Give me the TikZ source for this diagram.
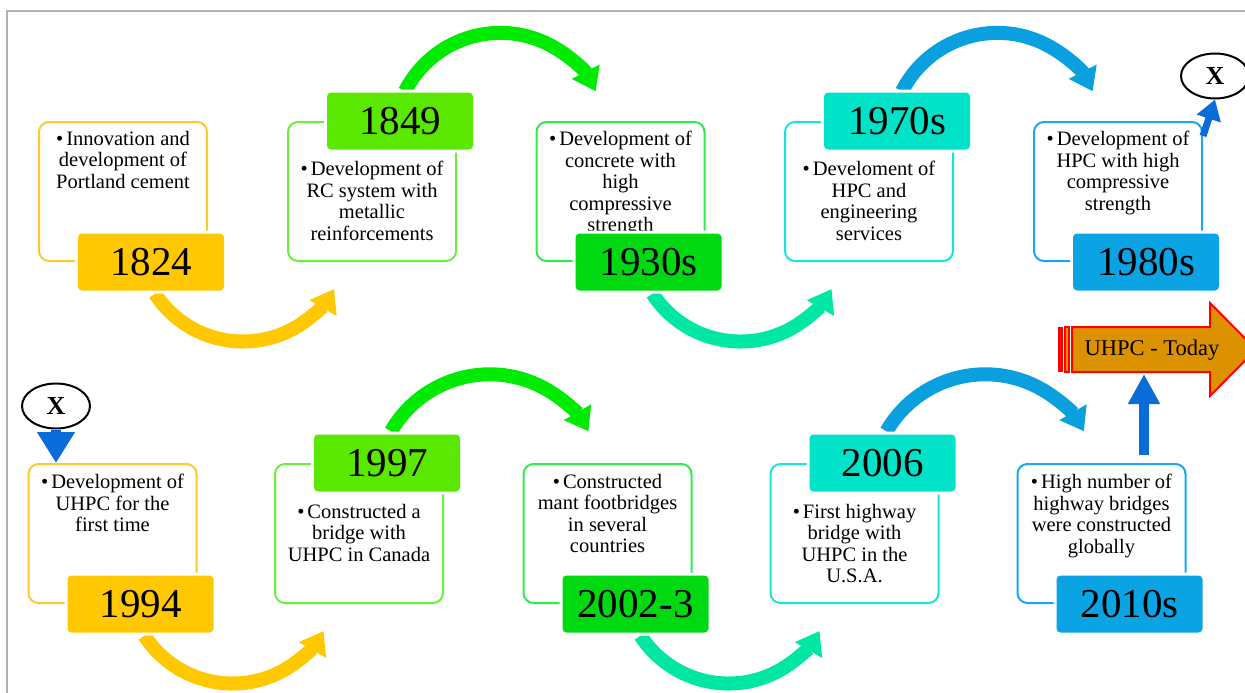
\documentclass[tikz,border=0pt]{standalone}
\usepackage{fontspec}
\setmainfont{Liberation Serif}
\usetikzlibrary{positioning,shapes.geometric,arrows.meta}
\pgfdeclarelayer{bg}
\pgfsetlayers{bg,main}
\definecolor{yelA}{HTML}{FFC800}
\definecolor{yelB}{HTML}{FFC926}
\definecolor{limeA}{HTML}{5BE800}
\definecolor{limeB}{HTML}{6AF03C}
\definecolor{grnA}{HTML}{00D912}
\definecolor{grnB}{HTML}{30EB4C}
\definecolor{grnC}{HTML}{00EB00}
\definecolor{turA}{HTML}{00E3C8}
\definecolor{turB}{HTML}{14E6DC}
\definecolor{tealC}{HTML}{00E6A3}
\definecolor{bluA}{HTML}{0AA3E3}
\definecolor{bluB}{HTML}{1CA6F0}
\definecolor{bluC}{HTML}{0AA0DF}
\definecolor{dkblu}{HTML}{0A6CD9}
\definecolor{todayC}{HTML}{DB9100}
\newcommand{\bulpt}{\textbullet\hspace{3pt}}
\tikzset{every picture/.append style={x=1pt, y=-1pt}}
\tikzset{
  outbox/.style={draw, rounded corners=10pt, line width=2pt,
    minimum width=168pt, minimum height=139pt, inner sep=0pt},
  yearbox/.style={rounded corners=4pt, minimum width=146pt, minimum height=57pt,
    inner sep=0pt, font=\fontsize{41}{41}\selectfont,
    preaction={draw=white, line width=6pt}},
  desc/.style={align=center, inner sep=0pt, font=\fontsize{20.5}{21.5}\selectfont},
  xnode/.style={ellipse, draw, line width=2pt, minimum width=68pt, minimum height=45pt,
    inner sep=0pt, font=\bfseries\fontsize{26}{26}\selectfont},
  curv/.style={line width=14pt, -{Triangle[width=30pt, length=22pt]}},
  pointer/.style={dkblu, line width=7pt, -{Triangle[width=24pt, length=20pt]}},
  bigpointer/.style={dkblu, line width=10pt, -{Triangle[width=36pt, length=31pt]}}
}

\begin{document}
\begin{tikzpicture}
  \useasboundingbox (0,0) rectangle (1245,693);
  \clip (0,0) rectangle (1245,693);
  \draw[gray!60, line width=2pt] (7,11) rectangle (1280,720);

  % top row
  \node[outbox, draw=yelB] (b1) at (123,191.5) {};
  \node[desc, below=10pt of b1.north] (d1) {\bulpt Innovation and\\development of\\Portland cement};
  \node[yearbox, fill=yelA] (y1) at ([xshift=28pt]b1.south) {1824};

  \node[outbox, draw=limeB] (b2) at (372,191.5) {};
  \node[desc, below=40pt of b2.north] (d2) {\bulpt Development of\\RC system with\\metallic\\reinforcements};
  \node[yearbox, fill=limeA] (y2) at ([xshift=28pt]b2.north) {1849};

  \node[outbox, draw=grnB] (b3) at (620.5,191.5) {};
  \node[desc, below=10pt of b3.north] (d3) {\bulpt Development of\\concrete with\\high\\compressive\\strength};
  \node[yearbox, fill=grnA] (y3) at ([xshift=28pt]b3.south) {1930s};

  \node[outbox, draw=turB] (b4) at (869,191.5) {};
  \node[desc, below=40pt of b4.north] (d4) {\bulpt Develoment of\\HPC and\\engineering\\services};
  \node[yearbox, fill=turA] (y4) at ([xshift=28pt]b4.north) {1970s};

  \node[outbox, draw=bluB] (b5) at (1118,191.5) {};
  \node[desc, below=10pt of b5.north] (d5) {\bulpt Development of\\HPC with high\\compressive\\strength};
  \node[yearbox, fill=bluA] (y5) at ([xshift=28pt]b5.south) {1980s};

  % bottom row
  \node[outbox, draw=yelB] (b6) at (112.5,533.5) {};
  \node[desc, below=11pt of b6.north] (d6) {\bulpt Development of\\UHPC for the\\first time};
  \node[yearbox, fill=yelA] (y6) at ([xshift=28pt]b6.south) {1994};

  \node[outbox, draw=limeB] (b7) at (359,533.5) {};
  \node[desc, below=41pt of b7.north] (d7) {\bulpt Constructed a\\bridge with\\UHPC in Canada};
  \node[yearbox, fill=limeA] (y7) at ([xshift=28pt]b7.north) {1997};

  \node[outbox, draw=grnB] (b8) at (607.5,533.5) {};
  \node[desc, below=11pt of b8.north] (d8) {\bulpt Constructed\\mant footbridges\\in several\\countries};
  \node[yearbox, fill=grnA] (y8) at ([xshift=28pt]b8.south) {2002-3};

  \node[outbox, draw=turB] (b9) at (854.5,533.5) {};
  \node[desc, below=41pt of b9.north] (d9) {\bulpt First highway\\bridge with\\UHPC in the\\U.S.A.};
  \node[yearbox, fill=turA] (y9) at ([xshift=28pt]b9.north) {2006};

  \node[outbox, draw=bluB] (b10) at (1101.5,533.5) {};
  \node[desc, below=11pt of b10.north] (d10) {\bulpt High number of\\highway bridges\\were constructed\\globally};
  \node[yearbox, fill=bluA] (y10) at ([xshift=28pt]b10.south) {2010s};

  % X marks and today arrow
  \node[xnode] (xa) at (1215,76) {X};
  \node[xnode] (xb) at (56,406) {X};
  \fill[red] (1058,327) rectangle (1063,372);
  \filldraw[fill=todayC, draw=red, line width=1.2pt] (1065,327) rectangle (1069,372);
  \filldraw[fill=todayC, draw=red, line width=2pt] (1072,327) -- (1210,327) -- (1210,303)
    -- (1256,349.5) -- (1210,396) -- (1210,372) -- (1072,372) -- cycle;
  \node[font=\fontsize{22.5}{22.5}\selectfont] (today) at (1152,350) {UHPC - Today};
  \coordinate (tb) at (1144,374);

  \begin{pgfonlayer}{bg}
    \draw[curv, yelA] ([xshift=4pt,yshift=-3pt]y1.south) arc[start angle=213, end angle=330, radius=105pt];
    \draw[curv, grnC] ([xshift=5pt,yshift=1pt]y2.north) arc[start angle=153, end angle=27, radius=107pt];
    \draw[curv, tealC] ([xshift=4pt,yshift=-3pt]y3.south) arc[start angle=213, end angle=330, radius=105pt];
    \draw[curv, bluC] ([xshift=5pt,yshift=1pt]y4.north) arc[start angle=153, end angle=27, radius=107pt];
    \draw[curv, yelA] ([xshift=4pt,yshift=-3pt]y6.south) arc[start angle=213, end angle=330, radius=105pt];
    \draw[curv, grnC] ([xshift=4pt,yshift=3pt]y7.north) arc[start angle=150, end angle=30, radius=114pt];
    \draw[curv, tealC] ([xshift=5pt,yshift=-3pt]y8.south) arc[start angle=213, end angle=330, radius=105pt];
    \draw[curv, bluC] ([xshift=4pt,yshift=3pt]y9.north) arc[start angle=150, end angle=30, radius=114pt];
  \end{pgfonlayer}

  \draw[pointer] ([yshift=-15pt]b5.north east) -- (xa.south);
  \draw[bigpointer] (xb.south) -- (xb.south |- b6.north);
  \draw[bigpointer, -{Triangle[width=30pt, length=30pt]}] ([yshift=8pt]b10.north -| tb) -- (tb);

\end{tikzpicture}
\end{document}
